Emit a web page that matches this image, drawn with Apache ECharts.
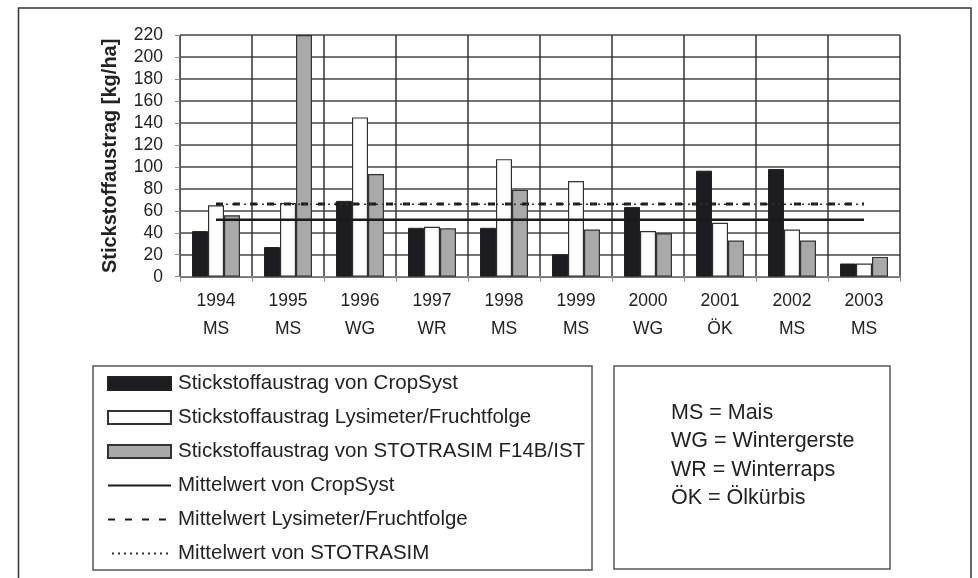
<!DOCTYPE html>
<html>
<head>
<meta charset="utf-8">
<script src="https://cdn.jsdelivr.net/npm/echarts@6/dist/echarts.min.js"></script>
<style>
html,body{margin:0;padding:0;background:#fff;}
#chart{width:978px;height:578px;}
</style>
</head>
<body>
<div id="chart"></div>
<script>
// ---- data ----
var years = ['1994','1995','1996','1997','1998','1999','2000','2001','2002','2003'];
var crops = ['MS','MS','WG','WR','MS','MS','WG','ÖK','MS','MS'];
var yTicks = [0,20,40,60,80,100,120,140,160,180,200,220];

var cropSyst   = [41.5, 27, 69, 44.5, 44.5, 20.5, 63.5, 96.5, 98, 12];
var lysimeter  = [65, 67, 145, 45.5, 107, 87, 41.5, 49, 43, 12];
var stotrasim  = [56, 220, 93.5, 44, 79, 43, 39.5, 33, 33, 18];

var meanCropSyst  = [51.8, 51.8, 51.8, 51.8, 51.8, 51.8, 51.8, 51.8, 51.8, 51.8];
var meanLysimeter = [66.2, 66.2, 66.2, 66.2, 66.2, 66.2, 66.2, 66.2, 66.2, 66.2];
var meanStotrasim = [65.9, 65.9, 65.9, 65.9, 65.9, 65.9, 65.9, 65.9, 65.9, 65.9];

var seriesNames = [
  'Stickstoffaustrag von CropSyst',
  'Stickstoffaustrag Lysimeter/Fruchtfolge',
  'Stickstoffaustrag von STOTRASIM F14B/IST',
  'Mittelwert von CropSyst',
  'Mittelwert Lysimeter/Fruchtfolge',
  'Mittelwert von STOTRASIM'
];
var yAxisTitle = 'Stickstoffaustrag [kg/ha]';
var abbreviations = ['MS = Mais', 'WG = Wintergerste', 'WR = Winterraps', 'ÖK = Ölkürbis'];

// ---- chart ----
var FONT = '"Liberation Sans", Arial, sans-serif';
var TXT = '#222';
var categories = years.map(function(y, i){ return y + '\n' + crops[i]; });

var chart = echarts.init(document.getElementById('chart'), null, {renderer:'canvas'});

var abbrevGraphics = abbreviations.map(function(t, i){
  return {
    type:'text', x:671, y:413 + i*28.5,
    style:{text:t, font:'21.5px ' + FONT, fill:TXT, textVerticalAlign:'middle', verticalAlign:'middle'}
  };
});

var hiddenSymbol = {color:'rgba(0,0,0,0)', borderColor:'rgba(0,0,0,0)', borderWidth:0, opacity:0};

var option = {
  backgroundColor:'#fff',
  animation:false,
  textStyle:{fontFamily:FONT},
  grid:{left:180, right:78, top:35, bottom:301.3, containLabel:false},
  legend:{
    orient:'vertical', left:107, top:373, padding:0,
    itemWidth:63, itemHeight:13, itemGap:13,
    textStyle:{fontSize:20.5, lineHeight:20, color:TXT, fontFamily:FONT, padding:[0,0,0,2]},
    data:[
      {name:seriesNames[0], icon:'rect'},
      {name:seriesNames[1], icon:'rect'},
      {name:seriesNames[2], icon:'rect'},
      {name:seriesNames[3], itemStyle:hiddenSymbol},
      {name:seriesNames[4], itemStyle:hiddenSymbol},
      {name:seriesNames[5], itemStyle:hiddenSymbol}
    ],
    selectedMode:false
  },
  xAxis:{
    type:'category', data:categories, boundaryGap:true,
    axisLine:{show:true, lineStyle:{color:'#888', width:1}},
    axisTick:{show:true, length:5, lineStyle:{color:'#888'}},
    axisLabel:{fontSize:17.5, color:TXT, lineHeight:28, margin:10, fontFamily:FONT},
    splitLine:{show:true, lineStyle:{color:'#333', width:1.5}}
  },
  yAxis:{
    type:'value', min:0, max:220, interval:20,
    name:yAxisTitle, nameLocation:'middle', nameGap:60,
    nameTextStyle:{fontSize:20, fontWeight:'bold', color:TXT, fontFamily:FONT},
    axisLine:{show:true, lineStyle:{color:'#555', width:1}},
    axisTick:{show:true, length:5, lineStyle:{color:'#888'}},
    axisLabel:{fontSize:17.5, color:TXT, margin:17, fontFamily:FONT,
      formatter:function(v){ return yTicks.indexOf(v) >= 0 ? String(v) : ''; }},
    splitLine:{show:true, lineStyle:{color:'#444', width:1.5}}
  },
  series:[
    {name:seriesNames[0], type:'bar', data:cropSyst, barWidth:16, barGap:'0%',
     itemStyle:{color:'#1d1c20', borderColor:'#222', borderWidth:1}},
    {name:seriesNames[1], type:'bar', data:lysimeter, barWidth:16, barGap:'0%',
     itemStyle:{color:'#ffffff', borderColor:'#333', borderWidth:1.2}},
    {name:seriesNames[2], type:'bar', data:stotrasim, barWidth:16, barGap:'0%',
     itemStyle:{color:'#a9a9a9', borderColor:'#333', borderWidth:1.2}},
    {name:seriesNames[3], type:'line', data:meanCropSyst, symbol:'none', z:5,
     lineStyle:{color:'#1a1a1a', width:2.5, type:'solid'}, itemStyle:{color:'#1a1a1a'}},
    {name:seriesNames[4], type:'line', data:meanLysimeter, symbol:'none', z:5,
     lineStyle:{color:'#1a1a1a', width:3, type:[7,10]}, itemStyle:{color:'#1a1a1a'}},
    {name:seriesNames[5], type:'line', data:meanStotrasim, symbol:'none', z:6,
     lineStyle:{color:'#333', width:1.5, type:[2,4], dashOffset:-10}, itemStyle:{color:'#333'}}
  ],
  graphic:[
    {type:'rect', shape:{x:18.5, y:8, width:952.5, height:620}, style:{fill:null, stroke:'#333', lineWidth:1.5}, silent:true, z:-1},
    {type:'rect', shape:{x:93, y:366, width:499, height:204}, style:{fill:null, stroke:'#555', lineWidth:1.5}, silent:true},
    {type:'rect', shape:{x:614, y:366, width:276, height:203}, style:{fill:null, stroke:'#555', lineWidth:1.5}, silent:true}
  ].concat(abbrevGraphics)
};
chart.setOption(option);
</script>
</body>
</html>
